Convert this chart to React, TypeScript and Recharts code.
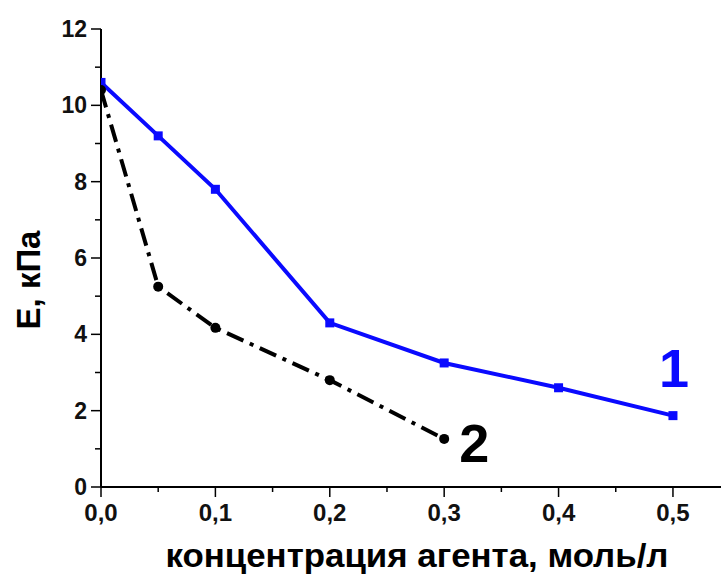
import React from 'react';
import { LineChart, Line, XAxis, YAxis, LabelList } from 'recharts';

const conc1 = [0, 0.05, 0.1, 0.2, 0.3, 0.4, 0.5];
const e1 = [10.6, 9.2, 7.8, 4.3, 3.25, 2.6, 1.87];
const conc2 = [0, 0.05, 0.1, 0.2, 0.3];
const e2 = [10.4, 5.25, 4.17, 2.8, 1.26];

const xMajorTicks = [0, 0.1, 0.2, 0.3, 0.4, 0.5];
const xTickLabels = ['0,0', '0,1', '0,2', '0,3', '0,4', '0,5'];
const xMinorTicks = [0.05, 0.15, 0.25, 0.35, 0.45];
const yMajorTicks = [0, 2, 4, 6, 8, 10, 12];
const yMinorTicks = [1, 3, 5, 7, 9, 11];
const curveLabels = ['1', '2'];
const xTitle = 'концентрация агента, моль/л';
const yTitle = 'E, кПа';

const series1 = conc1.map((c, i) => ({ c, e: e1[i] }));
const series2 = conc2.map((c, i) => ({ c, e: e2[i] }));
const allX = [...xMajorTicks, ...xMinorTicks].sort((a, b) => a - b);
const allY = [...yMajorTicks, ...yMinorTicks].sort((a, b) => a - b);

const FONT = '"Liberation Sans", Arial, sans-serif';
const BLUE = '#0a0aff';

const XTick = (props: any) => {
  const { x, y, payload } = props;
  const idx = xMajorTicks.findIndex((t) => Math.abs(t - payload.value) < 1e-6);
  const major = idx >= 0;
  return (
    <g>
      <line x1={x} x2={x} y1={y} y2={y + (major ? 10 : 5)} stroke="#000" strokeWidth={1.5} />
      {major && (
        <text x={x} y={y + 34} textAnchor="middle" fontFamily={FONT} fontWeight="bold" fontSize={24} fill="#111">
          {xTickLabels[idx]}
        </text>
      )}
    </g>
  );
};

const YTick = (props: any) => {
  const { x, y, payload } = props;
  const major = yMajorTicks.some((t) => Math.abs(t - payload.value) < 1e-6);
  return (
    <g>
      <line x1={x - (major ? 10 : 6)} x2={x} y1={y} y2={y} stroke="#000" strokeWidth={1.5} />
      {major && (
        <text x={x - 14} y={y + 8} textAnchor="end" fontFamily={FONT} fontWeight="bold" fontSize={23} fill="#111">
          {String(payload.value)}
        </text>
      )}
    </g>
  );
};

const SquareDot = (props: any) => {
  const { cx, cy } = props;
  if (cx == null || cy == null) return null;
  return <rect x={cx - 4.5} y={cy - 4.5} width={9} height={9} fill={BLUE} />;
};

const CircleDot = (props: any) => {
  const { cx, cy } = props;
  if (cx == null || cy == null) return null;
  return <circle cx={cx} cy={cy} r={5} fill="#000" />;
};

const makeCurveLabel = (text: string, last: number, dx: number, dy: number, color: string) => (props: any) => {
  const { x, y, index } = props;
  if (index !== last) return null;
  return (
    <text x={x + dx} y={y + dy} textAnchor="middle" fontFamily={FONT} fontWeight="bold" fontSize={54} fill={color}>
      {text}
    </text>
  );
};

export default function App() {
  return (
    <div style={{ position: 'absolute', left: 0, top: 0, width: 721, height: 576, background: '#fff' }}>
      <LineChart width={721} height={576} margin={{ top: 29, right: 0, bottom: 0, left: 0 }}>
        <XAxis
          xAxisId={0}
          dataKey="c"
          type="number"
          domain={[0, 0.542]}
          allowDataOverflow
          ticks={allX}
          interval={0}
          tickSize={0}
          tickMargin={0}
          tickLine={false}
          tick={<XTick />}
          axisLine={{ stroke: '#000', strokeWidth: 2 }}
          height={89}
          label={() => (
            <text x={417} y={567} textAnchor="middle" fontFamily={FONT} fontWeight="bold" fontSize={33} textLength={503} lengthAdjust="spacingAndGlyphs" fill="#000">
              {xTitle}
            </text>
          )}
        />
        <YAxis
          yAxisId={0}
          dataKey="e"
          type="number"
          domain={[0, 12]}
          allowDataOverflow
          ticks={allY}
          interval={0}
          tickSize={0}
          tickMargin={0}
          tickLine={false}
          tick={<YTick />}
          axisLine={{ stroke: '#000', strokeWidth: 2 }}
          width={101}
          label={() => (
            <text transform="translate(40,280) rotate(-90)" textAnchor="middle" fontFamily={FONT} fontWeight="bold" fontSize={33} fill="#000">
              {yTitle}
            </text>
          )}
        />
        <Line
          data={series1}
          dataKey="e"
          stroke={BLUE}
          strokeWidth={4}
          dot={<SquareDot />}
          activeDot={false}
          isAnimationActive={false}
        >
          <LabelList dataKey="e" content={makeCurveLabel(curveLabels[0], series1.length - 1, 1, -29, BLUE)} />
        </Line>
        <Line
          data={series2}
          dataKey="e"
          stroke="#000"
          strokeWidth={4}
          strokeDasharray="18 7 4 7"
          dot={<CircleDot />}
          activeDot={false}
          isAnimationActive={false}
        >
          <LabelList dataKey="e" content={makeCurveLabel(curveLabels[1], series2.length - 1, 30, 23, '#000')} />
        </Line>
      </LineChart>
    </div>
  );
}
